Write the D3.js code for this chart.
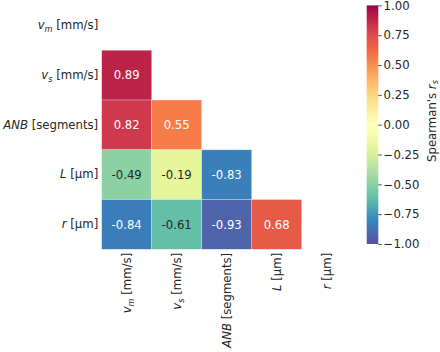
<!DOCTYPE html>
<html>
<head>
<meta charset="utf-8">
<script src="https://cdn.jsdelivr.net/npm/d3@7"></script>
<style>
  body { margin: 0; background: #fff; }
  text { font-family: "DejaVu Sans", sans-serif; white-space: pre; }
</style>
</head>
<body>
<div id="chart"></div>
<script>
// variables (row / column labels)
const varSymbols = ["v", "v", "ANB", "L", "r"];
const varSubs = ["m", "s", "", "", ""];
const varUnits = ["[mm/s]", "[mm/s]", "[segments]", "[μm]", "[μm]"];

// lower triangle of the Spearman correlation matrix
const corrRows = [
    [],
    [0.89],
    [0.82, 0.55],
    [-0.49, -0.19, -0.83],
    [-0.84, -0.61, -0.93, 0.68]
];

const cbarTicks = [-1, -0.75, -0.5, -0.25, 0, 0.25, 0.5, 0.75, 1];

// matplotlib "Spectral" anchors, reversed below
const spectral = ["#9e0142", "#d53e4f", "#f46d43", "#fdae61", "#fee08b", "#ffffbf",
                  "#e6f598", "#abdda4", "#66c2a5", "#3288bd", "#5e4fa2"];

const width = 440, height = 352;
const fs = 11.7;
const ink = "#262626";

const grid = {left: 101.7, top: 0.5, right: 351.7, bottom: 249.3};
const cbar = {left: 366.7, right: 378.3, top: 5.4, bottom: 244};

const svg = d3.select("#chart").append("svg")
    .attr("width", width)
    .attr("height", height);

const idx = d3.range(varSymbols.length);

const x = d3.scaleBand().domain(idx).range([grid.left, grid.right]);
const y = d3.scaleBand().domain(idx).range([grid.top, grid.bottom]);

const color = d3.scaleLinear()
    .domain(d3.ticks(-1, 1, 10))
    .range(spectral.slice().reverse())
    .clamp(true);

// flatten the triangle into cells
const cells = [];
corrRows.forEach((row, r) => row.forEach((v, c) => cells.push({r, c, v})));

function textFill(v) {
    const c = d3.rgb(color(v));
    const lin = ch => { ch /= 255; return ch <= 0.03928 ? ch / 12.92 : Math.pow((ch + 0.055) / 1.055, 2.4); };
    const lum = 0.2126 * lin(c.r) + 0.7152 * lin(c.g) + 0.0722 * lin(c.b);
    return lum > 0.408 ? ink : "#ffffff";
}

// heatmap cells
svg.append("g").selectAll("rect")
    .data(cells)
    .join("rect")
    .attr("x", d => x(d.c))
    .attr("y", d => y(d.r))
    .attr("width", x.bandwidth())
    .attr("height", y.bandwidth())
    .attr("fill", d => color(d.v))
    .attr("stroke", "#ffffff")
    .attr("stroke-opacity", 0.45)
    .attr("stroke-width", 0.6);

svg.append("g").selectAll("text")
    .data(cells)
    .join("text")
    .attr("x", d => x(d.c) + x.bandwidth() / 2)
    .attr("y", d => y(d.r) + y.bandwidth() / 2)
    .attr("dy", "0.36em")
    .attr("text-anchor", "middle")
    .attr("font-size", fs)
    .attr("fill", d => textFill(d.v))
    .text(d => d.v.toFixed(2));

// label with italic symbol, optional subscript, and unit
function richLabel(sel) {
    sel.each(function(i) {
        const t = d3.select(this).text(null);
        t.append("tspan").attr("font-style", "italic").text(varSymbols[i]);
        let shift = 0;
        if (varSubs[i]) {
            shift = 0.24 * fs;
            t.append("tspan")
                .attr("font-style", "italic")
                .attr("font-size", fs * 0.7)
                .attr("dy", shift)
                .text(varSubs[i]);
        }
        t.append("tspan")
            .attr("dy", -shift)
            .text(" " + varUnits[i]);
    });
}

// row labels
svg.append("g")
    .attr("transform", `translate(${grid.left},0)`)
    .call(d3.axisLeft(y).tickSize(0).tickPadding(3.5))
    .call(g => g.select(".domain").remove())
    .call(g => g.selectAll(".tick text")
        .attr("font-size", fs)
        .attr("fill", ink)
        .attr("font-family", "DejaVu Sans")
        .call(richLabel));

// column labels, rotated
svg.append("g")
    .attr("transform", `translate(0,${grid.bottom})`)
    .call(d3.axisBottom(x).tickSize(0))
    .call(g => g.select(".domain").remove())
    .call(g => g.selectAll(".tick text")
        .attr("transform", "rotate(-90)")
        .attr("x", -3.5)
        .attr("y", 0)
        .attr("dy", "0.36em")
        .attr("text-anchor", "end")
        .attr("font-size", fs)
        .attr("fill", ink)
        .attr("font-family", "DejaVu Sans")
        .call(richLabel));

// colorbar
const cScale = d3.scaleLinear().domain([-1, 1]).range([cbar.bottom, cbar.top]);

const grad = svg.append("defs").append("linearGradient")
    .attr("id", "cbar-grad")
    .attr("x1", 0).attr("y1", 1).attr("x2", 0).attr("y2", 0);
grad.selectAll("stop")
    .data(d3.ticks(-1, 1, 40))
    .join("stop")
    .attr("offset", d => (d + 1) / 2)
    .attr("stop-color", d => color(d));

svg.append("rect")
    .attr("x", cbar.left)
    .attr("y", cbar.top)
    .attr("width", cbar.right - cbar.left)
    .attr("height", cbar.bottom - cbar.top)
    .attr("fill", "url(#cbar-grad)");

svg.append("g")
    .attr("transform", `translate(${cbar.right},0)`)
    .call(d3.axisRight(cScale).tickValues(cbarTicks).tickFormat(d3.format(".2f")).tickSize(3.5).tickPadding(1.8))
    .call(g => g.select(".domain").remove())
    .call(g => g.selectAll(".tick line").attr("stroke", ink).attr("stroke-width", 0.8))
    .call(g => g.selectAll(".tick text")
        .attr("font-size", fs)
        .attr("fill", ink)
        .attr("font-family", "DejaVu Sans"));

// colorbar label
const cl = svg.append("text")
    .attr("transform", `translate(435.5,121) rotate(-90)`)
    .attr("text-anchor", "middle")
    .attr("font-size", fs)
    .attr("fill", ink);
cl.append("tspan").text("Spearman's ");
cl.append("tspan").attr("font-style", "italic").text("r");
cl.append("tspan").attr("font-style", "italic").attr("font-size", fs * 0.7).attr("dy", 0.24 * fs).text("s");
</script>
</body>
</html>
